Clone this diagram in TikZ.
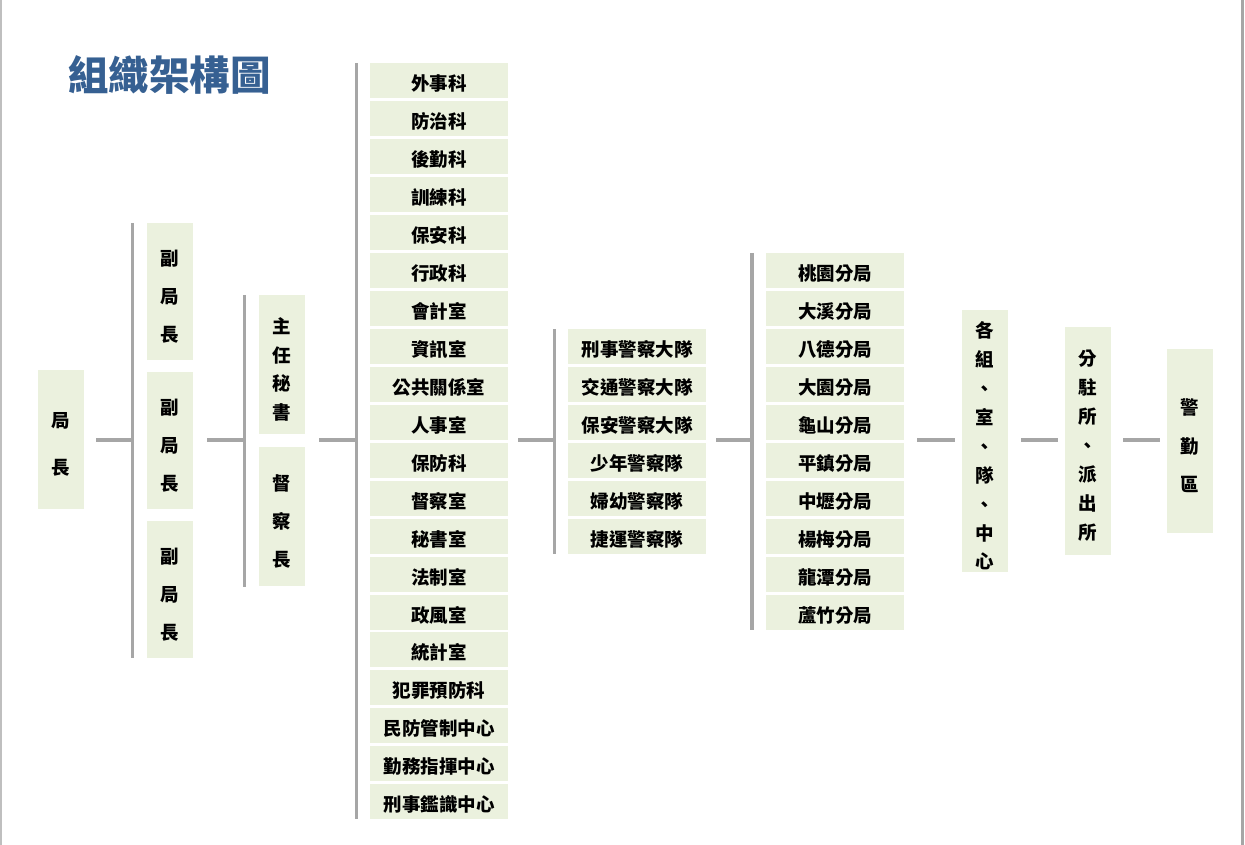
\documentclass[tikz,border=0pt]{standalone}
\usepackage{fontspec}
\usepackage{tikz}
\usetikzlibrary{matrix,positioning}
\newfontfamily\cjk{Noto Sans CJK TC}
\definecolor{boxfill}{HTML}{EBF1DE}
\definecolor{linegray}{HTML}{A6A6A6}
\definecolor{titleblue}{HTML}{366092}

\begin{document}
\begin{tikzpicture}[x=1pt, y=-1pt,
  box/.style={fill=boxfill, inner sep=0pt, font=\cjk\bfseries\fontsize{18.5}{22}\selectfont},
  hbox/.style={box, minimum width=138pt, minimum height=35pt, text height=22pt, text depth=2pt},
  vbox/.style n args={3}{box, minimum width=46pt, minimum height=#1,
    label={[vtext, font=\cjk\bfseries\fontsize{18.5}{#2}\selectfont]center:{#3}}},
  vtext/.style={align=center, inner sep=0pt, yshift=-5pt},
  conn/.style={draw=linegray, line width=3.6pt}]
  \useasboundingbox (0,0) rectangle (1245,845);
  \draw[draw=black!25, line width=1.5pt] (0.75,0) -- (0.75,845);
  \draw[draw=linegray, line width=3pt] (1242.5,0) -- (1242.5,845);

  \node[font=\cjk\bfseries\fontsize{40.5}{44}\selectfont, text=titleblue, anchor=west, inner sep=0pt]
    (title) at (68,75) {組織架構圖};

  % chief and deputies
  \node[vbox={139pt}{47pt}{局\\長}] (chief) at (61,439.5) {};
  \foreach \i in {1,2,3}
    \node[vbox={137pt}{38pt}{副\\局\\長}] (d\i) at (170,142.5+149*\i) {};
  \node[vbox={139pt}{28.7pt}{主\\任\\秘\\書}] (sec) at (282,364.5) {};
  \node[vbox={139pt}{38pt}{督\\察\\長}, below=13pt of sec] (insp) {};

  % units
  \matrix (u) [matrix of nodes, nodes={hbox}, row sep=2.95pt, inner sep=0pt, anchor=north] at (439,63)
  {
    外事科 \\ 防治科 \\ 後勤科 \\ 訓練科 \\ 保安科 \\ 行政科 \\ 會計室 \\ 資訊室 \\ 公共關係室 \\ 人事室 \\
    保防科 \\ 督察室 \\ 秘書室 \\ 法制室 \\ 政風室 \\ 統計室 \\ 犯罪預防科 \\ 民防管制中心 \\ 勤務指揮中心 \\ 刑事鑑識中心 \\
  };
  \matrix (b) [matrix of nodes, nodes={hbox}, row sep=3pt, inner sep=0pt, anchor=north] at (637,329)
  {
    刑事警察大隊 \\ 交通警察大隊 \\ 保安警察大隊 \\ 少年警察隊 \\ 婦幼警察隊 \\ 捷運警察隊 \\
  };
  \matrix (p) [matrix of nodes, nodes={hbox}, row sep=3pt, inner sep=0pt, anchor=north] at (835,253)
  {
    桃園分局 \\ 大溪分局 \\ 八德分局 \\ 大園分局 \\ 龜山分局 \\ 平鎮分局 \\ 中壢分局 \\ 楊梅分局 \\ 龍潭分局 \\ 蘆竹分局 \\
  };

  \node[vbox={262pt}{28.9pt}{各\\組\\、\\室\\、\\隊\\、\\中\\心}] (grp) at (985,441) {};
  \node[vbox={228pt}{29pt}{分\\駐\\所\\、\\派\\出\\所}] (sta) at (1088,441) {};
  \node[vbox={184pt}{38.5pt}{警\\勤\\區}] (beat) at (1190,441) {};

  % bars
  \coordinate (bar1) at (132.5,440);
  \coordinate (bar2) at (244.5,440);
  \coordinate (bar3) at (356.5,440);
  \coordinate (bar4) at (554.5,440);
  \coordinate (bar5) at (752,440);
  \draw[conn] (bar1 |- d1.north) -- (bar1 |- d3.south);
  \draw[conn] (bar2 |- sec.north) -- (bar2 |- insp.south);
  \draw[conn] (bar3 |- u.north) -- (bar3 |- u.south);
  \draw[conn] (bar4 |- b.north) -- (bar4 |- b.south);
  \draw[conn] (bar5 |- p.north) -- (bar5 |- p.south);

  % connectors
  \draw[conn] ([xshift=12pt]chief.east |- bar1) -- (bar1);
  \draw[conn] ([xshift=14pt]d2.east |- bar2) -- (bar2);
  \draw[conn] ([xshift=14pt]sec.east |- bar3) -- (bar3);
  \draw[conn] ([xshift=10pt]u.east |- bar4) -- (bar4);
  \draw[conn] ([xshift=10pt]b.east |- bar5) -- (bar5);
  \draw[conn] ([xshift=13pt]p.east |- bar5) -- ([xshift=-7pt]grp.west |- bar5);
  \draw[conn] ([xshift=13pt]grp.east |- bar5) -- ([xshift=-7pt]sta.west |- bar5);
  \draw[conn] ([xshift=12pt]sta.east |- bar5) -- ([xshift=-7pt]beat.west |- bar5);
\end{tikzpicture}
\end{document}
